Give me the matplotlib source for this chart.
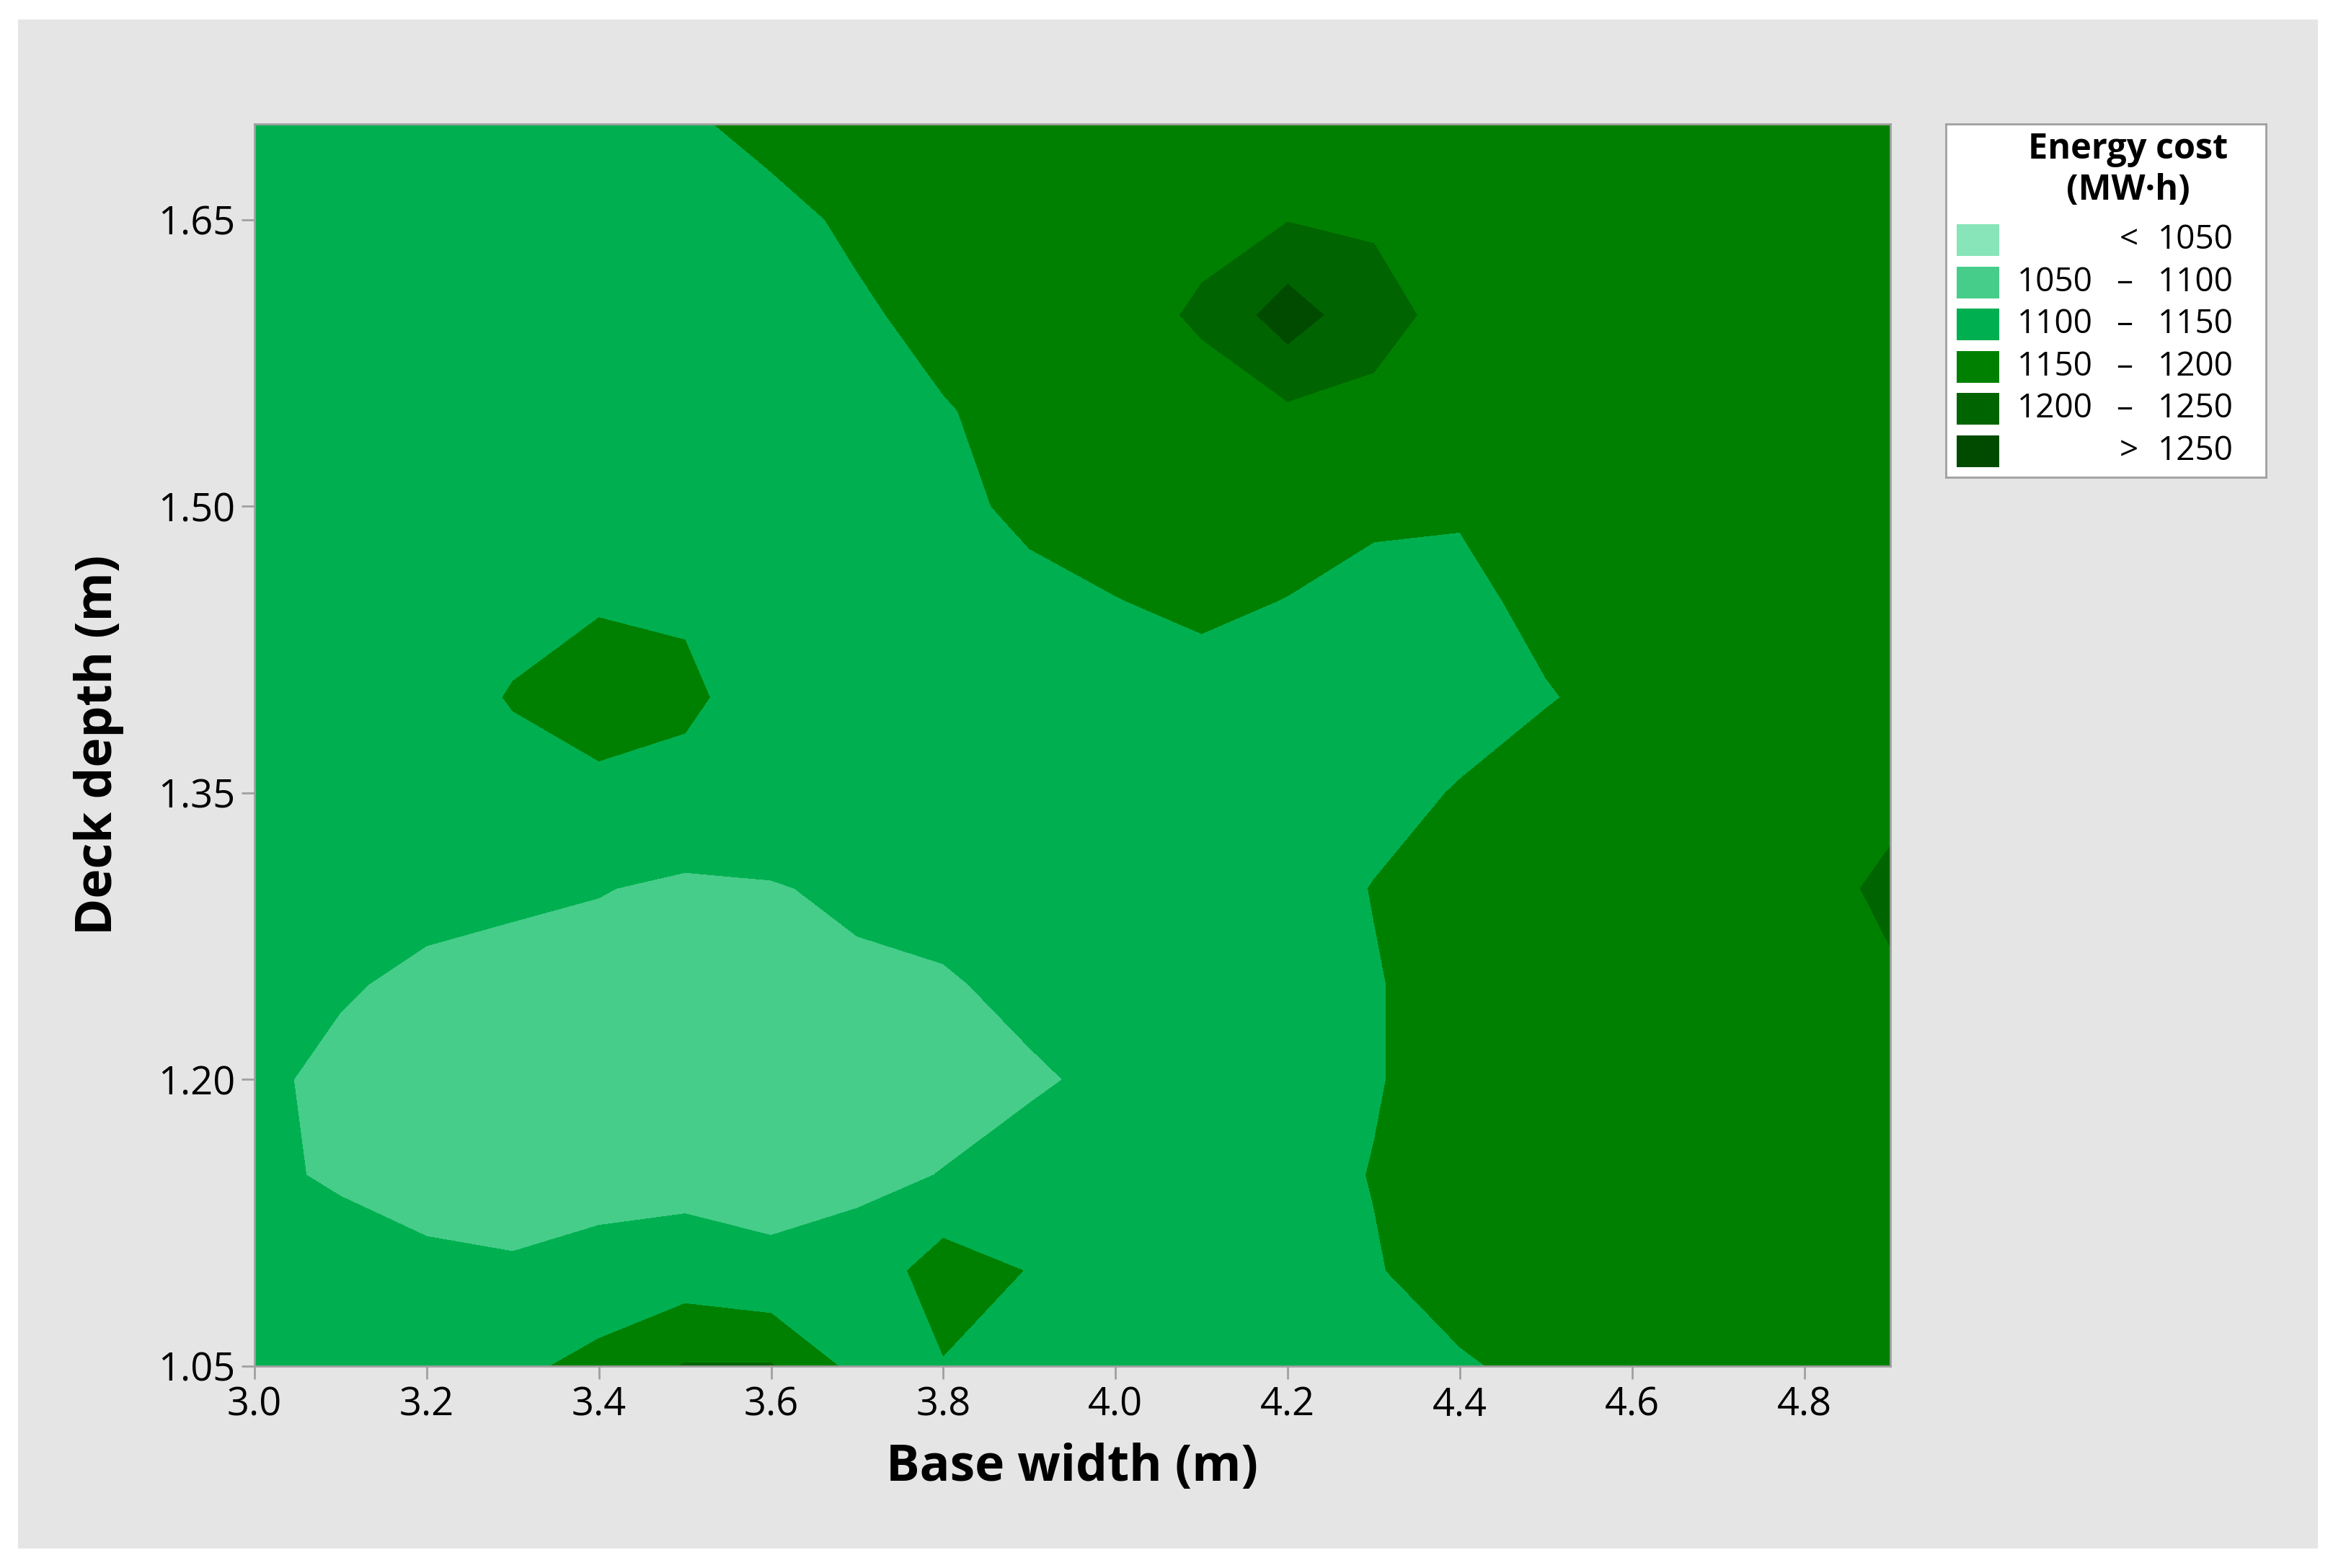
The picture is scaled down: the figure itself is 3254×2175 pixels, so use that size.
import numpy as np
import matplotlib
matplotlib.use("Agg")
import matplotlib.pyplot as plt
from matplotlib.patches import Rectangle

plt.rcParams['font.family'] = ['Open Sans', 'DejaVu Sans']

# grid of the contour surface
base_width = [3.0, 3.1, 3.2, 3.3, 3.4, 3.5, 3.6, 3.7, 3.8, 3.9,
              4.0, 4.1, 4.2, 4.3, 4.4, 4.5, 4.6, 4.7, 4.8, 4.9]
deck_depth = [1.05, 1.10, 1.15, 1.20, 1.25, 1.30, 1.35, 1.40, 1.45, 1.50, 1.55, 1.60, 1.65, 1.70]

# energy cost (MW·h), one row per deck depth
cost = [
    [1118, 1122, 1128, 1140, 1163, 1203, 1203, 1135, 1147, 1140, 1130, 1135, 1138, 1142, 1147, 1157, 1165, 1170, 1172, 1175],
    [1120, 1128, 1110, 1105, 1118, 1122, 1107, 1115, 1175, 1148, 1128, 1135, 1140, 1148, 1162, 1172, 1176, 1178, 1178, 1180],
    [1112, 1092, 1082, 1080, 1080, 1085, 1088, 1092, 1101, 1115, 1125, 1132, 1140, 1151, 1162, 1170, 1175, 1178, 1180, 1182],
    [1110, 1088, 1078, 1075, 1073, 1073, 1075, 1080, 1088, 1095, 1108, 1120, 1132, 1148, 1162, 1170, 1175, 1178, 1180, 1185],
    [1125, 1105, 1090, 1085, 1082, 1082, 1088, 1092, 1096, 1110, 1122, 1130, 1138, 1148, 1162, 1172, 1178, 1182, 1185, 1195],
    [1122, 1120, 1115, 1108, 1102, 1092, 1097, 1108, 1115, 1120, 1125, 1130, 1136, 1151, 1165, 1172, 1178, 1182, 1185, 1208],
    [1120, 1124, 1130, 1138, 1145, 1140, 1132, 1126, 1125, 1126, 1128, 1130, 1134, 1140, 1152, 1165, 1175, 1180, 1185, 1190],
    [1120, 1125, 1135, 1152, 1160, 1156, 1135, 1128, 1128, 1130, 1132, 1138, 1136, 1132, 1138, 1148, 1160, 1170, 1175, 1178],
    [1118, 1122, 1130, 1140, 1148, 1146, 1135, 1132, 1135, 1140, 1149, 1156, 1149, 1140, 1142, 1158, 1168, 1172, 1172, 1172],
    [1118, 1120, 1122, 1124, 1127, 1130, 1133, 1136, 1140, 1158, 1165, 1168, 1165, 1156, 1153, 1160, 1168, 1170, 1170, 1170],
    [1120, 1122, 1124, 1126, 1128, 1131, 1135, 1140, 1148, 1160, 1172, 1185, 1192, 1190, 1180, 1175, 1172, 1170, 1170, 1170],
    [1122, 1124, 1126, 1128, 1130, 1133, 1137, 1145, 1160, 1172, 1185, 1205, 1275, 1215, 1185, 1178, 1175, 1173, 1172, 1172],
    [1125, 1127, 1130, 1132, 1134, 1136, 1140, 1156, 1165, 1172, 1180, 1190, 1198, 1195, 1185, 1178, 1176, 1175, 1175, 1175],
    [1128, 1130, 1132, 1134, 1138, 1145, 1160, 1168, 1172, 1175, 1178, 1180, 1185, 1183, 1180, 1178, 1178, 1178, 1178, 1178],
]

breaks = [1050, 1100, 1150, 1200, 1250]
colors = ['#87E5B9', '#46CD8A', '#00B050', '#008000', '#006400', '#004B00']
xticks = [3.0, 3.2, 3.4, 3.6, 3.8, 4.0, 4.2, 4.4, 4.6, 4.8]
yticks = [1.05, 1.20, 1.35, 1.50, 1.65]

W, H = 3255, 2175
fig = plt.figure(figsize=(W / 100, H / 100), dpi=100, facecolor='white')

# grey panel behind everything
bg = fig.add_axes([25 / W, 1 - 2148 / H, 3190 / W, 2121 / H], zorder=-10)
bg.set_facecolor('#E5E5E5')
bg.set_xticks([])
bg.set_yticks([])
for s in bg.spines.values():
    s.set_visible(False)

ax = fig.add_axes([353 / W, 1 - 1895 / H, (2622 - 353) / W, (1895 - 172) / H])
X, Y = np.meshgrid(base_width, deck_depth)
Z = np.array(cost, dtype=float)
levels = [Z.min() - 100] + breaks + [Z.max() + 100]
ax.contourf(X, Y, Z, levels=levels, colors=colors, antialiased=False)
ax.set_xlim(3.0, 4.9)
ax.set_ylim(1.05, 1.70)
ax.set_xticks(xticks)
ax.set_xticklabels([f"{v:.1f}" for v in xticks])
ax.set_yticks(yticks)
ax.set_yticklabels([f"{v:.2f}" for v in yticks])
for s in ax.spines.values():
    s.set_color('#A0A0A0')
    s.set_linewidth(2)
ax.tick_params(colors='#A0A0A0', labelcolor='black', width=2, length=13,
               labelsize=39, pad=6)
ax.set_xlabel('Base width (m)', fontsize=50, fontweight='bold', labelpad=18)
ax.set_ylabel('Deck depth (m)', fontsize=50, fontweight='bold', labelpad=34)

# legend box
lax = fig.add_axes([2699 / W, 1 - 662 / H, (3143 - 2699) / W, (662 - 172) / H])
lax.set_xlim(2699, 3143)
lax.set_ylim(662, 172)
lax.set_xticks([])
lax.set_yticks([])
lax.set_facecolor('white')
for s in lax.spines.values():
    s.set_color('#A0A0A0')
    s.set_linewidth(2)
lax.text(2952, 207, 'Energy cost', ha='center', va='center', fontsize=35, fontweight='bold')
lax.text(2952, 265, '(MW·h)', ha='center', va='center', fontsize=35, fontweight='bold')

lows = [None] + breaks
highs = breaks + [None]
for i, (lo, hi, c) in enumerate(zip(lows, highs, colors)):
    yc = 333 + i * 58.6
    lax.add_patch(Rectangle((2714, yc - 22), 59, 44, facecolor=c, edgecolor='none'))
    if lo is None:
        lax.text(2953, yc, '<', ha='center', va='center', fontsize=33)
        lax.text(3098, yc, str(hi), ha='right', va='center', fontsize=33)
    elif hi is None:
        lax.text(2953, yc, '>', ha='center', va='center', fontsize=33)
        lax.text(3098, yc, str(lo), ha='right', va='center', fontsize=33)
    else:
        lax.text(2903, yc, str(lo), ha='right', va='center', fontsize=33)
        lax.text(2947, yc, '–', ha='center', va='center', fontsize=33)
        lax.text(3098, yc, str(hi), ha='right', va='center', fontsize=33)

fig.savefig('out.png', dpi=100, facecolor='white')
